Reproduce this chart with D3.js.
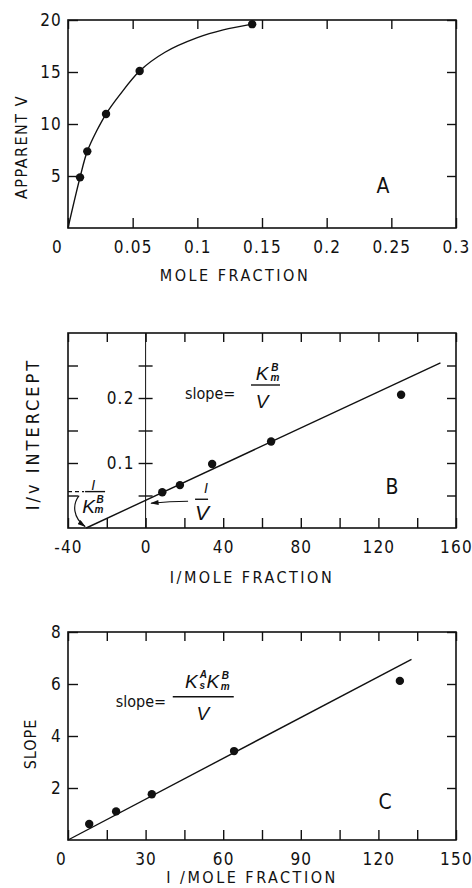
<!DOCTYPE html>
<html>
<head>
<meta charset="utf-8">
<script src="https://cdn.jsdelivr.net/npm/d3@7"></script>
<style>
  body { margin: 0; background: #fff; }
  svg { display: block; }
  text { font-family: "Liberation Sans Narrow", "DejaVu Sans Condensed", sans-serif; fill: #111; }
  .frame { fill: none; stroke: #111; stroke-width: 1.6; }
  .axis .tick line { stroke: #111; stroke-width: 1.4; }
  .axis .tick text { font-family: "Liberation Sans Narrow", "DejaVu Sans Condensed", sans-serif; font-size: 17px; letter-spacing: 1.2px; fill: #111; }
  .title { font-size: 16px; letter-spacing: 2.5px; }
  .fit { fill: none; stroke: #111; stroke-width: 1.4; }
  .dot { fill: #111; }
  .ann { font-size: 16px; }
  .sym { font-family: "Liberation Sans", sans-serif; font-style: italic; font-size: 19px; }
  .idx { font-family: "Liberation Sans", sans-serif; font-style: italic; font-weight: bold; font-size: 10px; }
  .letter { font-size: 21px; }
</style>
</head>
<body>
<div id="chart"></div>
<script>
const W = 472, H = 888;
const X0 = 68, X1 = 456;

// panel A: apparent V against mole fraction
const aMoleFraction = [0.0093, 0.0149, 0.0294, 0.0554, 0.1424];
const aApparentV = [4.87, 7.37, 10.96, 15.1, 19.6];
const aCurveX = [0, 0.0093, 0.0149, 0.022, 0.0294, 0.04, 0.0554, 0.075, 0.1, 0.12, 0.1424];
const aCurveY = [0, 4.87, 7.37, 9.3, 10.96, 12.8, 15.1, 16.9, 18.3, 19.05, 19.6];
const aXTicks = [0, 0.05, 0.1, 0.15, 0.2, 0.25, 0.3];
const aXTickLabels = ['0', '0.05', '0.1', '0.15', '0.2', '0.25', '0.3'];
const aYTicks = [5, 10, 15, 20];
const aYTickLabels = ['5', '10', '15', '20'];

// panel B: 1/v intercept against 1/mole fraction
const bInvMoleFraction = [8.6, 17.7, 34.3, 64.7, 131.7];
const bIntercept = [0.055, 0.066, 0.0985, 0.133, 0.205];
const bFitX = [-30.6, 152];
const bFitY = [0, 0.254];
const bXTicks = [-40, -20, 0, 20, 40, 60, 80, 100, 120, 140, 160];
const bXTickLabels = ['-40', '', '0', '', '40', '', '80', '', '120', '', '160'];
const bYTicks = [0.05, 0.1, 0.15, 0.2, 0.25];
const bYTickLabels = ['', '0.1', '', '0.2', ''];

// panel C: slope against 1/mole fraction
const cInvMoleFraction = [8.2, 18.6, 32.4, 64.2, 128.3];
const cSlope = [0.615, 1.10, 1.76, 3.42, 6.12];
const cFitX = [0, 132.8];
const cFitY = [0, 6.95];
const cXTicks = [0, 15, 30, 45, 60, 75, 90, 105, 120, 135, 150];
const cXTickLabels = ['0', '', '30', '', '60', '', '90', '', '120', '', '150'];
const cYTicks = [2, 4, 6, 8];
const cYTickLabels = ['2', '4', '6', '8'];

const svg = d3.select('#chart').append('svg')
    .attr('width', W)
    .attr('height', H);

svg.append('defs').append('marker')
    .attr('id', 'head')
    .attr('viewBox', '0 0 10 6')
    .attr('refX', 9).attr('refY', 3)
    .attr('markerWidth', 9).attr('markerHeight', 5)
    .attr('markerUnits', 'userSpaceOnUse')
    .attr('orient', 'auto')
  .append('path')
    .attr('d', 'M0,0 L10,3 L0,6 Z')
    .attr('fill', '#111');

const labeller = (vals, labels) => d => labels[vals.indexOf(d)];
const noDomain = sel => sel.select('.domain').remove();

function drawPanel(p) {
    const x = d3.scaleLinear().domain(p.xDomain).range([X0, X1]);
    const y = d3.scaleLinear().domain(p.yDomain).range([p.bottom, p.top]);
    const g = svg.append('g');

    g.append('g').attr('class', 'axis')
        .attr('transform', `translate(0,${p.bottom})`)
        .call(d3.axisBottom(x).tickValues(p.xTicks).tickSize(-10).tickPadding(13)
            .tickFormat(labeller(p.xTicks, p.xLabels)))
        .call(noDomain)
        .selectAll('.tick text')
        .attr('dx', d => d === 0 ? p.zeroShift : 0);

    g.append('g').attr('class', 'axis')
        .attr('transform', `translate(0,${p.top})`)
        .call(d3.axisTop(x).tickValues(p.xTicks).tickSize(-9).tickFormat(''))
        .call(noDomain);

    g.append('g').attr('class', 'axis')
        .attr('transform', `translate(${X0},0)`)
        .call(d3.axisLeft(y).tickValues(p.yTicks).tickSize(-10).tickPadding(6)
            .tickFormat(p.yAxisAt == null ? labeller(p.yTicks, p.yLabels) : ''))
        .call(noDomain);

    g.append('g').attr('class', 'axis')
        .attr('transform', `translate(${X1},0)`)
        .call(d3.axisRight(y).tickValues(p.yTicks).tickSize(-9).tickFormat(''))
        .call(noDomain);

    if (p.yAxisAt != null) {
        const ax = x(p.yAxisAt);
        g.append('line')
            .attr('x1', ax).attr('x2', ax)
            .attr('y1', p.bottom).attr('y2', p.top)
            .attr('stroke', '#111').attr('stroke-width', 1);
        g.append('g').attr('class', 'axis')
            .attr('transform', `translate(${ax},0)`)
            .call(d3.axisLeft(y).tickValues(p.yTicks).tickSize(7).tickPadding(4)
                .tickFormat(labeller(p.yTicks, p.yLabels)))
            .call(noDomain);
        g.append('g').attr('class', 'axis')
            .attr('transform', `translate(${ax},0)`)
            .call(d3.axisRight(y).tickValues(p.yTicks).tickSize(7).tickFormat(''))
            .call(noDomain);
    }

    g.append('rect').attr('class', 'frame')
        .attr('x', X0).attr('y', p.top)
        .attr('width', X1 - X0).attr('height', p.bottom - p.top);

    const line = d3.line()
        .x(d => x(d[0]))
        .y(d => y(d[1]))
        .curve(p.curve || d3.curveLinear);
    g.append('path').attr('class', 'fit')
        .attr('d', line(d3.zip(p.fitX, p.fitY)));

    g.selectAll('.dot')
        .data(d3.zip(p.ptsX, p.ptsY))
        .join('circle')
        .attr('class', 'dot')
        .attr('cx', d => x(d[0]))
        .attr('cy', d => y(d[1]))
        .attr('r', 4.2);

    g.append('text').attr('class', 'letter')
        .attr('x', x(p.letterAt[0])).attr('y', y(p.letterAt[1]))
        .attr('text-anchor', 'middle')
        .text(p.letter);

    g.append('text').attr('class', 'title')
        .attr('x', p.xTitleAt[0]).attr('y', p.xTitleAt[1])
        .attr('text-anchor', 'middle')
        .text(p.xTitle);

    g.append('text').attr('class', 'title')
        .attr('transform', `translate(${p.yTitleAt[0]},${p.yTitleAt[1]}) rotate(-90)`)
        .attr('text-anchor', 'middle')
        .style('font-size', p.yTitleSize + 'px')
        .style('letter-spacing', p.yTitleSpacing + 'px')
        .text(p.yTitle);

    return { g, x, y };
}

function put(g, cls, px, py, str, anchor) {
    return g.append('text').attr('class', cls)
        .attr('x', px).attr('y', py)
        .attr('text-anchor', anchor || 'middle')
        .text(str);
}

function bar(g, x1, x2, yy) {
    g.append('line').attr('x1', x1).attr('x2', x2).attr('y1', yy).attr('y2', yy)
        .attr('stroke', '#111').attr('stroke-width', 1.4);
}

// ---- A
const A = drawPanel({
    xDomain: [0, 0.3], yDomain: [0, 20], top: 20, bottom: 228,
    xTicks: aXTicks, xLabels: aXTickLabels, yTicks: aYTicks, yLabels: aYTickLabels,
    zeroShift: -11,
    fitX: aCurveX, fitY: aCurveY, curve: d3.curveCatmullRom.alpha(0.5),
    ptsX: aMoleFraction, ptsY: aApparentV,
    letter: 'A', letterAt: [0.2436, 3.4],
    xTitle: 'MOLE FRACTION', xTitleAt: [235, 281],
    yTitle: 'APPARENT V', yTitleAt: [27, 147], yTitleSize: 16, yTitleSpacing: 1.5
});

// ---- B
const B = drawPanel({
    xDomain: [-40, 160], yDomain: [0, 0.3], top: 333, bottom: 528,
    xTicks: bXTicks, xLabels: bXTickLabels, yTicks: bYTicks, yLabels: bYTickLabels,
    yAxisAt: 0, zeroShift: 0,
    fitX: bFitX, fitY: bFitY,
    ptsX: bInvMoleFraction, ptsY: bIntercept,
    letter: 'B', letterAt: [127, 0.052],
    xTitle: 'I/MOLE FRACTION', xTitleAt: [252, 583],
    yTitle: 'I/v INTERCEPT', yTitleAt: [39, 434], yTitleSize: 18, yTitleSpacing: 3
});

{
    const g = B.g;
    // slope = Km^B / V
    const sx = B.x(20.3), sy = B.y(0.22);
    put(g, 'ann', sx, sy + 14, 'slope=', 'start');
    bar(g, sx + 66, sx + 95, sy);
    put(g, 'sym', sx + 77, sy - 5, 'K');
    put(g, 'idx', sx + 90, sy - 14, 'B');
    put(g, 'idx', sx + 90, sy - 4, 'm');
    put(g, 'sym', sx + 77, sy + 23, 'V');

    // 1/V arrow to intercept
    const vx = B.x(25.5), vy = B.y(0.0442);
    put(g, 'sym', vx + 11, vy - 6, 'I').style('font-size', '14px');
    bar(g, vx, vx + 13, vy);
    put(g, 'sym', vx + 7, vy + 21, 'V').style('font-size', '21px');
    g.append('path')
        .attr('d', `M${vx - 7},${vy + 2} Q${vx - 25},${vy + 2} ${vx - 44},${vy + 4}`)
        .attr('fill', 'none').attr('stroke', '#111').attr('stroke-width', 1.2)
        .attr('marker-end', 'url(#head)');

    // 1/Km^B at x-intercept
    const kx = B.x(-31.2), ky = B.y(0.056);
    g.append('line')
        .attr('x1', X0).attr('x2', kx - 1).attr('y1', ky).attr('y2', ky)
        .attr('stroke', '#111').attr('stroke-width', 1.2)
        .attr('stroke-dasharray', '4,3');
    put(g, 'sym', kx + 8, ky - 2, 'I').style('font-size', '14px');
    bar(g, kx, kx + 20, ky);
    put(g, 'sym', kx + 3.5, ky + 21, 'K');
    put(g, 'idx', kx + 15, ky + 11, 'B');
    put(g, 'idx', kx + 14, ky + 21, 'm');
    g.append('path')
        .attr('d', `M${kx - 6},${ky + 4} C${kx - 13},${ky + 13} ${kx - 12},${ky + 26} ${kx},${ky + 35}`)
        .attr('fill', 'none').attr('stroke', '#111').attr('stroke-width', 1.2)
        .attr('marker-end', 'url(#head)');
}

// ---- C
const C = drawPanel({
    xDomain: [0, 150], yDomain: [0, 8], top: 632, bottom: 840,
    xTicks: cXTicks, xLabels: cXTickLabels, yTicks: cYTicks, yLabels: cYTickLabels,
    zeroShift: -7,
    fitX: cFitX, fitY: cFitY,
    ptsX: cInvMoleFraction, ptsY: cSlope,
    letter: 'C', letterAt: [122.6, 1.19],
    xTitle: 'I /MOLE FRACTION', xTitleAt: [252, 883],
    yTitle: 'SLOPE', yTitleAt: [36, 744], yTitleSize: 16, yTitleSpacing: 1
});

{
    const g = C.g;
    // slope = Ks^A Km^B / V
    const sx = C.x(40.5), sy = C.y(5.51);
    put(g, 'ann', sx - 57, sy + 10, 'slope=', 'start');
    bar(g, sx, sx + 61, sy);
    put(g, 'sym', sx + 18.5, sy - 9, 'K');
    put(g, 'idx', sx + 30.5, sy - 19, 'A');
    put(g, 'idx', sx + 29.5, sy - 8, 's');
    put(g, 'sym', sx + 40, sy - 9, 'K');
    put(g, 'idx', sx + 52.5, sy - 18, 'B');
    put(g, 'idx', sx + 52.5, sy - 7, 'm');
    put(g, 'sym', sx + 30, sy + 23, 'V');
}
</script>
</body>
</html>
